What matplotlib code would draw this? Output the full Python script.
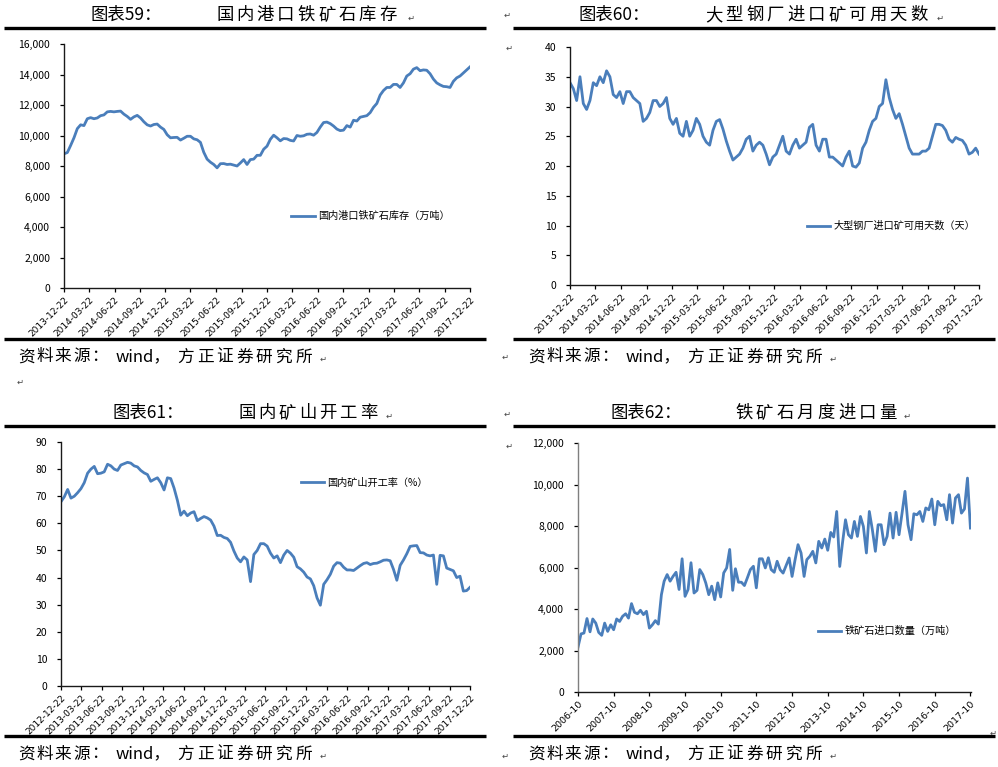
import matplotlib
matplotlib.use('Agg')
import matplotlib.pyplot as plt
from matplotlib.lines import Line2D
from matplotlib.ticker import FuncFormatter, MultipleLocator
import pandas as pd

plt.rcParams['font.family'] = ['Noto Sans CJK SC', 'DejaVu Sans']
plt.rcParams['axes.unicode_minus'] = False

# ---------------- data ----------------
# 图表59 国内港口铁矿石库存（万吨）, 2013-12-22 .. 2017-12-22
inv_start, inv_end = '2013-12-22', '2017-12-22'
port_inventory = [
    8800, 8880, 9350, 9850, 10450, 10700, 10650, 11100, 11170, 11100,
    11150, 11300, 11350, 11550, 11580, 11550, 11580, 11600, 11400, 11250,
    11060, 11220, 11320, 11150, 10900, 10700, 10620, 10720, 10750, 10550,
    10400, 10050, 9850, 9870, 9880, 9700, 9820, 9950, 9950, 9780,
    9720, 9550, 8900, 8450, 8250, 8100, 7880, 8150, 8160, 8100,
    8120, 8060, 8000, 8200, 8420, 8100, 8420, 8450, 8700, 8700,
    9100, 9300, 9750, 10020, 9850, 9650, 9800, 9780, 9680, 9640,
    10000, 9950, 9980, 10080, 10100, 10020, 10200, 10550, 10850, 10880,
    10780, 10620, 10420, 10320, 10350, 10650, 10550, 11000, 10950, 11200,
    11250, 11300, 11500, 11850, 12100, 12650, 12950, 13150, 13150, 13350,
    13350, 13150, 13450, 13900, 14050, 14350, 14450, 14250, 14300, 14280,
    14050, 13700, 13450, 13320, 13220, 13200, 13150, 13550, 13780, 13900,
    14100, 14300, 14500]

# 图表60 大型钢厂进口矿可用天数（天）, 2013-12-22 .. 2017-12-22
days_start, days_end = '2013-12-22', '2017-12-22'
usable_days = [
    34, 33, 31, 35, 30.5, 29.5, 31, 34, 33.5, 35,
    34, 36, 35, 32, 31.5, 32.5, 30.5, 32.5, 32.5, 31.5,
    31, 30.5, 27.5, 28, 29, 31, 31, 30, 30.5, 31.5,
    28, 27, 28, 25.5, 25, 27.5, 25, 26, 28, 27,
    25, 24, 23.5, 26, 27.5, 27.8, 26.2, 24.2, 22.5, 21,
    21.5, 22, 23, 24.5, 25, 22.5, 23.5, 24, 23.5, 22,
    20.2, 21.5, 22, 23.5, 25, 22.5, 22, 23.5, 24.5, 23,
    23.5, 24, 26.5, 27, 23.5, 22.5, 24.5, 24.5, 21.5, 21.5,
    21, 20.5, 20, 21.5, 22.5, 20, 19.8, 20.5, 23, 24,
    26, 27.5, 28, 30, 30.5, 34.5, 31.5, 29.5, 28, 28.8,
    27, 25, 23, 22, 22, 22, 22.5, 22.5, 23, 25,
    27, 27, 26.8, 26, 24.5, 24, 24.8, 24.5, 24.3, 23.5,
    22, 22.3, 23, 22]

# 图表61 国内矿山开工率（%）, 2012-12-22 .. 2017-12-22
rate_start, rate_end = '2012-12-22', '2017-12-22'
mine_rate = [
    68, 69.8, 72.5, 69.3, 70, 71.3, 72.8, 75, 78.5, 80,
    81, 78.3, 78.5, 79, 81.8, 81.2, 80, 79.5, 81.5, 82,
    82.5, 82.2, 81.2, 80.8, 79.5, 78.6, 78, 75.5, 76.2, 76.8,
    75, 72.3, 76.8, 76.5, 73, 68.5, 63, 64.5, 62.8, 63.8,
    64.3, 61, 61.8, 62.5, 62, 61.2, 59, 55.5, 55.6, 54.8,
    54.4, 53, 49.8, 47.2, 45.8, 47.6, 46.5, 38.5, 48.5, 50,
    52.5, 52.5, 51.6, 49, 47.2, 48, 45.5, 48.3, 50, 49,
    47.5, 44, 43.2, 42, 40.2, 39.5, 37, 32.5, 29.8, 37.5,
    39.2, 41.2, 44.2, 45.5, 45.3, 43.8, 42.8, 42.8, 42.6, 43.5,
    44.4, 45.2, 45.5, 44.8, 45.2, 45.3, 45.8, 46.4, 46.5, 46.2,
    43, 39, 44.5, 46.5, 48.8, 51.5, 51.7, 51.8, 49.2, 49.1,
    48.3, 48, 48.3, 37.5, 48.2, 48, 43.5, 43, 42.5, 40,
    40.5, 35, 35.2, 36.4]

# 图表62 铁矿石进口数量（万吨）, monthly from 2006-10
imp_start = '2006-10-01'
ore_imports = [
    2160, 2800, 2840, 3540, 2900, 3520, 3320, 2870, 2730, 3320,
    2920, 3240, 3000, 3520, 3400, 3650, 3770, 3560, 4260, 3840,
    3770, 3940, 3730, 3890, 3080, 3240, 3440, 3270, 4690, 5340,
    5660, 5340, 5580, 5770, 4940, 6420, 4610, 4940, 6230, 4770,
    4900, 5900, 5660, 5260, 4690, 5100, 4450, 5260, 4580, 5740,
    5980, 6870, 4900, 5940, 5290, 5290, 5130, 5500, 5900, 6060,
    5020, 6420, 6420, 5980, 6470, 5900, 5770, 6300, 5890, 5730,
    6090, 6460, 5570, 6380, 7100, 6700, 5570, 6380, 6540, 6780,
    6220, 7260, 6940, 7370, 6830, 7690, 7470, 8700, 6050, 7180,
    8300, 7580, 7420, 8220, 7500, 8460, 7980, 6700, 8700, 7820,
    6780, 8060, 8060, 7100, 7500, 8620, 7420, 8660, 7580, 8620,
    9670, 8060, 7340, 8590, 8540, 8700, 8220, 8870, 8780, 9300,
    8060, 9190, 8980, 9030, 8300, 9510, 8140, 9350, 9510, 8620,
    8820, 10310, 7900]

titles = [('图表59：', '国内港口铁矿石库存'),
          ('图表60：', '大型钢厂进口矿可用天数'),
          ('图表61：', '国内矿山开工率'),
          ('图表62：', '铁矿石月度进口量')]
legend_labels = ['国内港口铁矿石库存（万吨）', '大型钢厂进口矿可用天数（天）',
                 '国内矿山开工率（%）', '铁矿石进口数量（万吨）']
source_parts = ('资料来源：', 'wind，', '方正证券研究所')

# ---------------- figure ----------------
W, H = 998, 767
fig = plt.figure(figsize=(W / 100, H / 100), dpi=100)
BLUE = '#4a7ebb'
CJK = ['Noto Sans CJK SC', 'DejaVu Sans']


def ftext(x, y, s, **kw):
    return fig.text(x / W, 1 - y / H, s, **kw)


def spaced(x0, y, s, adv, size, **kw):
    for i, ch in enumerate(s):
        ftext(x0 + i * adv, y, ch, fontsize=size, ha='left', va='center', **kw)


def hrule(x0, x1, y, lw=2.4):
    fig.add_artist(Line2D([x0 / W, x1 / W], [1 - y / H, 1 - y / H], color='black',
                          lw=lw, transform=fig.transFigure, solid_capstyle='butt'))


def retmark(x, y):
    ftext(x, y, '\u21b5', fontsize=6, color='#444444', ha='center', va='center',
          family='DejaVu Sans')


def make_ax(l, t, r, b):
    ax = fig.add_axes([l / W, 1 - b / H, (r - l) / W, (b - t) / H])
    for s in ['top', 'right']:
        ax.spines[s].set_visible(False)
    for s in ['left', 'bottom']:
        ax.spines[s].set_color('#1a1a1a')
        ax.spines[s].set_linewidth(1.0)
    ax.tick_params(axis='y', length=3, pad=7, labelsize=7.5, width=0.9)
    ax.tick_params(axis='x', length=3, pad=2.5, width=0.9)
    return ax


def set_xdates(ax, ticks, fmt, size=6.5):
    ax.set_xticks(list(ticks))
    ax.set_xticklabels([d.strftime(fmt) for d in ticks], rotation=45, ha='right',
                       va='top', rotation_mode='anchor', fontsize=size,
                       family='DejaVu Sans')


def yfmt_thousands(v, pos):
    return f'{v:,.0f}'


def yfmt_int(v, pos):
    return f'{v:.0f}'


def add_legend(ax, ax_x, ax_y):
    ax.legend(loc='center left', bbox_to_anchor=(ax_x, ax_y), frameon=False,
              borderpad=0, borderaxespad=0, handlelength=2.3, handletextpad=0.3,
              prop={'size': 7.3, 'family': CJK})


# ---- panel 59 ----
ax1 = make_ax(64, 44, 470, 288)
d1 = pd.date_range(inv_start, inv_end, periods=len(port_inventory))
ax1.plot(d1, port_inventory, color=BLUE, lw=2.0, label=legend_labels[0])
ax1.set_xlim(pd.Timestamp(inv_start), pd.Timestamp(inv_end))
ax1.set_ylim(0, 16000)
ax1.yaxis.set_major_locator(MultipleLocator(2000))
ax1.yaxis.set_major_formatter(FuncFormatter(yfmt_thousands))
set_xdates(ax1, pd.date_range(inv_start, inv_end, freq=pd.DateOffset(months=3)), '%Y-%m-%d')
add_legend(ax1, 0.56, 0.295)

# ---- panel 60 ----
ax2 = make_ax(570, 47, 979, 285)
d2 = pd.date_range(days_start, days_end, periods=len(usable_days))
ax2.plot(d2, usable_days, color=BLUE, lw=2.0, label=legend_labels[1])
ax2.set_xlim(pd.Timestamp(days_start), pd.Timestamp(days_end))
ax2.set_ylim(0, 40)
ax2.yaxis.set_major_locator(MultipleLocator(5))
ax2.yaxis.set_major_formatter(FuncFormatter(yfmt_int))
set_xdates(ax2, pd.date_range(days_start, days_end, freq=pd.DateOffset(months=3)), '%Y-%m-%d')
add_legend(ax2, 0.579, 0.248)

# ---- panel 61 ----
ax3 = make_ax(61, 442, 470, 686)
d3 = pd.date_range(rate_start, rate_end, periods=len(mine_rate))
ax3.plot(d3, mine_rate, color=BLUE, lw=2.0, label=legend_labels[2])
ax3.set_xlim(pd.Timestamp(rate_start), pd.Timestamp(rate_end))
ax3.set_ylim(0, 90)
ax3.yaxis.set_major_locator(MultipleLocator(10))
ax3.yaxis.set_major_formatter(FuncFormatter(yfmt_int))
set_xdates(ax3, pd.date_range(rate_start, rate_end, freq=pd.DateOffset(months=3)), '%Y-%m-%d')
add_legend(ax3, 0.587, 0.832)

# ---- panel 62 ----
ax4 = make_ax(578, 443, 971, 692)
d4 = pd.date_range(imp_start, periods=len(ore_imports), freq='MS')
ax4.plot(d4, ore_imports, color=BLUE, lw=2.0, label=legend_labels[3])
ax4.set_xlim(d4[0], d4[-1] + pd.Timedelta(days=6))
ax4.set_ylim(0, 12000)
ax4.yaxis.set_major_locator(MultipleLocator(2000))
ax4.yaxis.set_major_formatter(FuncFormatter(yfmt_thousands))
ax4.spines['left'].set_color('#7f7f7f')
set_xdates(ax4, pd.date_range(imp_start, d4[-1], freq=pd.DateOffset(months=12)), '%Y-%m', size=6.8)
add_legend(ax4, 0.611, 0.245)

# ---------------- titles, rules, sources ----------------
TS = 12.5
# top-left
ftext(90, 15, titles[0][0], fontsize=TS, ha='left', va='center')
spaced(216, 15, titles[0][1], 20.4, TS)
retmark(411, 18)
# top-right
ftext(578, 15, titles[1][0], fontsize=TS, ha='left', va='center')
spaced(705, 15, titles[1][1], 20.5, TS)
retmark(940, 18)
# bottom-left
ftext(112, 413, titles[2][0], fontsize=TS, ha='left', va='center')
spaced(238, 413, titles[2][1], 20.3, TS)
retmark(389, 416)
# bottom-right
ftext(610, 413, titles[3][0], fontsize=TS, ha='left', va='center')
spaced(735, 413, titles[3][1], 20.6, TS)
retmark(907, 416)

hrule(4, 486, 28)
hrule(513, 995, 28)
hrule(4, 486, 339)
hrule(513, 995, 339)
hrule(4, 486, 426)
hrule(513, 995, 426)
hrule(4, 486, 736)
hrule(513, 995, 736)

SS = 12
for x0, y in [(18, 357), (528, 357), (18, 754), (528, 754)]:
    spaced(x0, y, source_parts[0], 18.4, SS, style='italic')
    ftext(x0 + 98, y, source_parts[1], fontsize=SS, ha='left', va='center',
          style='italic')
    spaced(x0 + 159, y, source_parts[2], 19.7, SS, style='italic')
    retmark(x0 + 305, y + 2)

for (x, y) in [(507, 15), (509, 48), (505, 357), (20, 382), (507, 414),
               (509, 446), (505, 756), (993, 733)]:
    retmark(x, y)

fig.savefig('out.png', dpi=100)
